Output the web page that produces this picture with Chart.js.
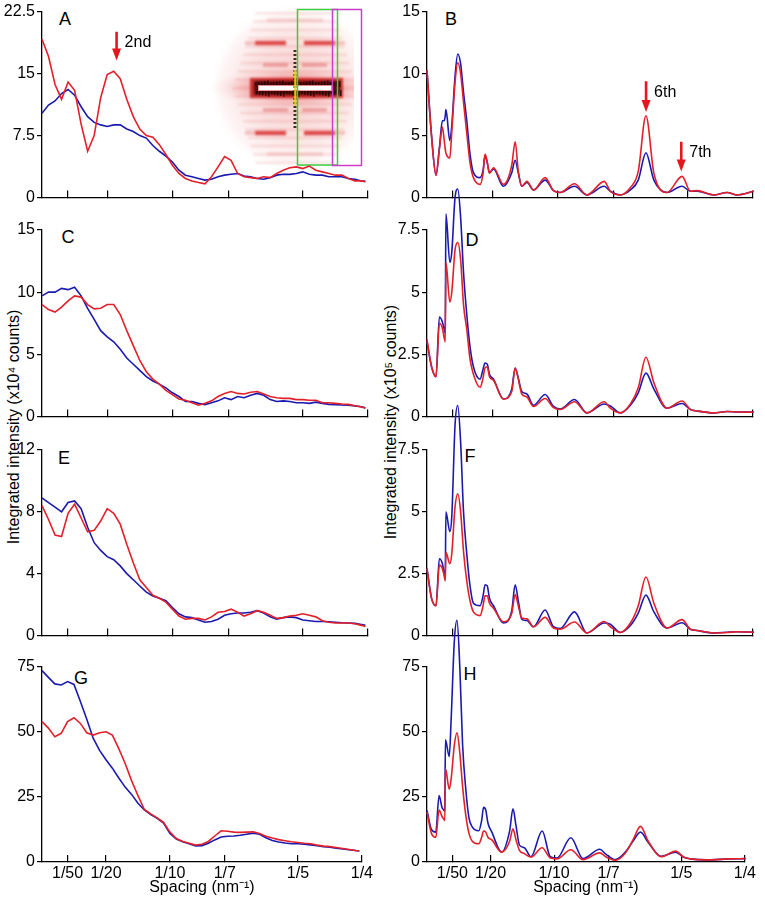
<!DOCTYPE html>
<html><head><meta charset="utf-8">
<script src="https://cdn.jsdelivr.net/npm/chart.js@4.4.1/dist/chart.umd.min.js"></script>
<style>
html,body{margin:0;padding:0;background:#fff;}
body{width:765px;height:902px;position:relative;overflow:hidden;font-family:"Liberation Sans",Arial,sans-serif;color:#000;}
canvas{position:absolute;}
.lbl{position:absolute;font-size:18px;line-height:18px;transform:translate(-50%,-50%);}
.ytitle{position:absolute;font-size:16px;line-height:18px;white-space:nowrap;transform:translate(-50%,-50%) rotate(-90deg);}
</style></head><body>
<div class="lbl" style="left:65px;top:19px">A</div>
<div class="lbl" style="left:451px;top:19px">B</div>
<div class="lbl" style="left:68px;top:237px">C</div>
<div class="lbl" style="left:472px;top:240px">D</div>
<div class="lbl" style="left:64px;top:458px">E</div>
<div class="lbl" style="left:470px;top:456px">F</div>
<div class="lbl" style="left:81px;top:678px">G</div>
<div class="lbl" style="left:470px;top:674px">H</div>
<div class="ytitle" style="left:14px;top:427px">Integrated intensity (x10⁴ counts)</div>
<div class="ytitle" style="left:391px;top:422px">Integrated intensity (x10⁵ counts)</div>
<script>
// ---------- data ----------
const xTickValues = [1/50, 1/20, 1/10, 1/7, 1/5, 1/4];
const xTickLabels = ['1/50', '1/20', '1/10', '1/7', '1/5', '1/4'];

const leftQ = [0,0.005,0.01,0.015,0.02,0.025,0.03,0.035,0.04,0.045,0.05,0.055,0.06,0.065,0.07,0.075,0.08,0.085,0.09,0.095,0.1,0.105,0.11,0.115,0.12,0.125,0.13,0.135,0.14,0.145,0.15,0.155,0.16,0.165,0.17,0.175,0.18,0.185,0.19,0.195,0.2,0.205,0.21,0.215,0.22,0.225,0.23,0.235,0.24,0.245,0.248];

const rightQ = [0,0.0035,0.0069,0.0095,0.0118,0.0132,0.014,0.0145,0.0175,0.019,0.0215,0.0236,0.0258,0.028,0.0305,0.033,0.0356,0.0407,0.043,0.0445,0.0462,0.0479,0.051,0.0586,0.065,0.0676,0.07,0.0727,0.0766,0.0817,0.0906,0.097,0.1022,0.1131,0.1227,0.1359,0.1406,0.1482,0.156,0.162,0.1679,0.174,0.1841,0.1956,0.202,0.2071,0.2199,0.2302,0.2379,0.2506];

const aRed  = [19.2,17.1,13.7,11.9,14.0,13.0,8.9,5.6,7.5,12.1,14.9,15.3,14.4,11.9,9.8,8.3,7.5,7.3,6.4,5.2,3.9,2.9,2.3,2.0,1.8,1.65,2.5,3.7,4.95,4.5,2.9,2.5,2.4,2.3,2.5,2.4,2.9,3.3,3.6,3.7,3.5,3.8,3.3,3.1,2.9,2.7,2.7,2.3,2.0,2.0,1.9];
const aBlue = [10.2,11.2,11.7,12.6,13.1,12.4,11.0,9.8,9.1,8.8,8.6,8.8,8.8,8.3,8.0,7.5,7.2,6.3,5.6,5.0,4.3,3.3,2.7,2.5,2.3,2.1,2.2,2.5,2.7,2.8,2.9,2.6,2.5,2.3,2.2,2.4,2.7,2.8,2.8,2.9,3.1,2.8,2.7,2.7,2.5,2.5,2.5,2.3,2.2,2.0,1.95];
const cRed  = [9.0,8.6,8.4,8.8,9.3,9.7,9.6,9.0,8.65,8.7,9.0,9.0,8.2,6.9,5.7,4.5,3.6,3.0,2.6,2.1,1.75,1.4,1.3,1.1,0.9,1.05,1.25,1.6,1.85,2.0,1.85,1.8,1.95,2.0,1.8,1.6,1.5,1.45,1.45,1.35,1.35,1.3,1.3,1.1,1.1,1.05,1.0,0.97,0.85,0.75,0.66];
const cBlue = [9.7,10.0,10.0,10.3,10.2,10.4,9.7,8.7,7.8,6.9,6.4,6.0,5.4,4.7,4.2,3.7,3.2,2.85,2.6,2.3,1.9,1.6,1.2,1.2,1.05,0.95,1.1,1.25,1.5,1.35,1.6,1.5,1.7,1.85,1.7,1.35,1.2,1.25,1.2,1.1,1.1,1.05,1.15,1.05,0.97,0.95,0.92,0.9,0.85,0.78,0.7];
const eRed  = [8.4,7.5,6.5,6.4,7.9,8.5,7.6,6.7,6.8,7.4,8.2,7.9,7.2,5.9,4.7,3.6,3.1,2.6,2.4,2.15,1.7,1.25,1.05,1.1,1.1,1.0,1.2,1.5,1.55,1.7,1.5,1.25,1.4,1.6,1.5,1.3,1.1,1.15,1.25,1.3,1.4,1.3,1.2,0.95,0.85,0.8,0.8,0.8,0.75,0.65,0.57];
const eBlue = [8.9,8.6,8.3,8.0,8.6,8.7,8.2,7.0,6.0,5.5,5.1,4.9,4.5,4.0,3.6,3.2,2.8,2.55,2.4,2.25,1.8,1.4,1.2,1.15,1.0,0.85,0.9,1.05,1.3,1.4,1.45,1.45,1.5,1.6,1.45,1.2,1.05,1.15,1.2,1.15,1.0,0.95,0.9,0.9,0.88,0.85,0.82,0.8,0.78,0.7,0.65];
const gRed  = [54.0,51.5,48.2,49.5,54.0,55.5,53.3,49.7,48.8,49.7,50.1,48.8,43.6,37.9,31.3,25.5,20.2,18.5,17.0,15.3,11.5,9.0,7.9,7.2,6.5,6.8,7.9,10.0,12.0,11.8,11.5,11.4,11.5,11.6,11.0,9.9,9.2,8.6,8.2,7.8,7.5,7.2,7.0,6.5,6.1,5.9,5.6,5.2,4.8,4.4,4.2];
const gBlue = [73.6,71.0,68.5,68.1,69.4,68.3,61.7,54.9,47.6,42.9,39.3,36.1,32.3,28.8,26.0,22.6,20.0,18.2,16.8,15.0,11.0,8.8,7.8,7.0,6.2,6.3,7.2,8.5,9.6,9.9,10.0,10.3,10.7,11.1,10.7,9.3,8.3,7.7,7.3,7.0,7.0,6.8,6.6,6.3,5.9,5.7,5.3,5.0,4.7,4.4,4.2];

const bRed  = [10.3,4.9,1.8,3.9,5.7,4.6,3.9,3.6,3.2,5.3,9.3,10.9,10.0,7.7,5.2,2.8,1.6,1.05,1.95,3.5,2.85,1.95,2.4,1.05,2.6,4.5,2.1,0.9,1.3,0.6,1.6,0.55,0.4,1.1,0.2,1.3,0.5,0.2,0.8,2.1,6.6,1.95,0.4,1.7,0.5,0.55,0.2,0.4,0.2,0.5];
const bBlue = [10.2,5.0,1.8,4.0,6.2,6.2,6.6,7.1,4.6,5.8,9.8,11.6,10.8,8.5,6.2,3.5,2.0,1.6,2.2,3.4,2.8,2.0,2.3,0.9,2.0,3.0,2.0,0.9,1.2,0.6,1.4,0.55,0.4,0.9,0.2,0.9,0.5,0.2,0.6,1.4,3.6,1.4,0.4,0.9,0.5,0.5,0.2,0.4,0.2,0.5];
const dRed  = [3.1,2.0,1.6,3.75,3.55,3.15,3.0,6.2,4.6,5.0,6.7,7.0,6.3,4.5,3.5,2.3,1.7,1.17,1.55,1.95,2.0,1.6,1.45,0.7,1.0,1.95,1.5,0.9,0.78,0.4,0.72,0.35,0.28,0.59,0.14,0.59,0.33,0.14,0.5,1.15,2.38,1.35,0.33,0.62,0.28,0.22,0.14,0.2,0.18,0.17];
const dBlue = [3.0,2.0,1.6,4.0,3.8,3.5,3.35,8.15,6.2,6.6,8.8,9.15,8.0,5.8,4.1,2.8,2.0,1.5,1.9,2.15,2.1,1.7,1.5,0.7,1.1,1.95,1.55,1.0,0.9,0.45,0.88,0.4,0.3,0.68,0.14,0.5,0.42,0.14,0.45,0.95,1.74,1.1,0.33,0.52,0.28,0.22,0.14,0.2,0.18,0.17];
const fRed  = [2.7,1.5,1.2,2.85,2.7,2.4,2.2,3.36,2.9,3.3,5.2,5.73,5.0,3.4,2.2,1.4,0.95,0.8,1.2,1.6,1.6,1.3,1.1,0.55,0.9,1.65,1.2,0.7,0.67,0.35,0.73,0.3,0.25,0.54,0.1,0.56,0.35,0.12,0.5,1.2,2.36,1.3,0.3,0.64,0.25,0.2,0.1,0.12,0.15,0.13];
const fBlue = [2.7,1.5,1.2,3.1,2.9,2.5,2.3,5.0,4.2,4.8,8.5,9.3,7.8,5.0,3.3,2.0,1.3,1.2,1.6,2.05,2.0,1.5,1.2,0.5,1.0,2.05,1.4,0.65,0.6,0.35,1.03,0.35,0.28,0.95,0.1,0.5,0.45,0.12,0.4,0.9,1.63,0.95,0.3,0.51,0.25,0.2,0.1,0.13,0.15,0.13];
const hRed  = [19.2,11,9.5,20.0,17.5,16.5,16,36,28,32,45,49.7,42,29,18,11,8.0,7.0,9.5,11.9,11.5,9.5,8.5,3.8,8,12.8,8.5,4.5,3.2,1.9,5.5,1.5,1.2,4.7,0.9,3.5,2.0,0.7,3.5,8.5,13.7,8.0,2.0,4.2,1.8,1.2,0.8,1.0,1.2,1.3];
const hBlue = [19.8,12.5,11.5,25.6,21,20,19.5,47,40.5,55,85,93,75,45,28,17,13.5,12,16,21,20,15,11.5,3.8,12,20.5,14,6.5,5.5,2.0,11.9,2.0,1.5,9.3,1.3,4.9,3.0,0.9,3.8,8.0,11.5,7.5,2.2,3.8,1.8,1.2,0.8,1.0,1.2,1.3];

const yTicksA = [0, 7.5, 15, 22.5];
const yTicksB = [0, 5, 10, 15];
const yTicksC = [0, 5, 10, 15];
const yTicksD = [0, 2.5, 5, 7.5];
const yTicksE = [0, 4, 8, 12];
const yTicksF = [0, 2.5, 5, 7.5];
const yTicksG = [0, 25, 50, 75];
const yTicksH = [0, 25, 50, 75];

const arrowsA = [{q: 0.0572, from: 20.1, to: 16.6, text: '2nd'}];
const arrowsB = [{q: 0.168, from: 9.4, to: 6.9, text: '6th'}, {q: 0.195, from: 4.5, to: 2.1, text: '7th'}];

// ---------- layout ----------
const ROW_TOP = [12, 230, 450, 667];
const ROW_BOT = [207, 426, 645, 862];
const RED = '#e3202a', BLUE = '#1a1ab0';
Chart.defaults.font.family = '"Liberation Sans", Arial, sans-serif';
Chart.defaults.color = '#000';

function arrowPlugin(list) {
  return {
    id: 'arrows',
    afterDatasetsDraw(chart) {
      const ctx = chart.ctx, xs = chart.scales.x, ys = chart.scales.y;
      ctx.save();
      list.forEach(a => {
        const x = xs.getPixelForValue(a.q);
        const y0 = ys.getPixelForValue(a.from), y1 = ys.getPixelForValue(a.to);
        ctx.strokeStyle = '#e5161e'; ctx.fillStyle = '#e5161e'; ctx.lineWidth = 2.6;
        ctx.beginPath(); ctx.moveTo(x, y0); ctx.lineTo(x, y1 - 10); ctx.stroke();
        ctx.beginPath(); ctx.moveTo(x - 4.5, y1 - 12); ctx.lineTo(x + 4.5, y1 - 12); ctx.lineTo(x, y1); ctx.closePath(); ctx.fill();
        ctx.fillStyle = '#000'; ctx.font = '16px "Liberation Sans", Arial, sans-serif';
        ctx.textBaseline = 'middle'; ctx.textAlign = 'left';
        ctx.fillText(a.text, x + 8, y0 + 11);
      });
      ctx.restore();
    }
  };
}

const insetPlugin = {
  id: 'inset',
  beforeDatasetsDraw(chart) {
    const ctx = chart.ctx;
    const cx = 295, cy = 88;
    ctx.save();
    ctx.beginPath(); ctx.rect(212, 6, 142, 163); ctx.clip();
    let g = ctx.createRadialGradient(cx, cy, 5, cx, cy, 86);
    g.addColorStop(0, 'rgba(238,150,150,0.5)');
    g.addColorStop(0.55, 'rgba(244,180,180,0.38)');
    g.addColorStop(0.85, 'rgba(250,215,215,0.25)');
    g.addColorStop(1, 'rgba(255,255,255,0)');
    ctx.fillStyle = g; ctx.fillRect(200, 0, 170, 180);
    // equatorial band
    ctx.save(); ctx.translate(cx, cy); ctx.scale(1, 0.24);
    g = ctx.createRadialGradient(0, 0, 0, 0, 0, 85);
    g.addColorStop(0, 'rgba(225,40,40,0.75)');
    g.addColorStop(0.5, 'rgba(235,100,100,0.45)');
    g.addColorStop(1, 'rgba(250,200,200,0)');
    ctx.fillStyle = g; ctx.beginPath(); ctx.arc(0, 0, 85, 0, 2 * Math.PI); ctx.fill();
    ctx.restore();
    ctx.filter = 'blur(1.2px)';
    // fine layer lines
    ctx.strokeStyle = 'rgba(215,70,70,0.14)'; ctx.lineWidth = 2.5;
    for (let k = -9; k <= 9; k++) {
      const y = cy + k * 8.3;
      const half = 62 - Math.abs(k) * 2.5;
      ctx.beginPath(); ctx.moveTo(cx - half, y); ctx.lineTo(cx + half, y); ctx.stroke();
    }
    const band = (dy, x0, x1, col, h) => {
      ctx.fillStyle = col;
      ctx.fillRect(cx + x0, cy + dy - h / 2, x1 - x0, h);
    };
    [-45, 45].forEach(dy => {
      band(dy, -40, -9, 'rgba(212,25,25,0.75)', 4.5);
      band(dy, 9, 40, 'rgba(212,25,25,0.75)', 4.5);
      band(dy, -50, -40, 'rgba(225,90,90,0.3)', 4);
      band(dy, 40, 50, 'rgba(225,90,90,0.3)', 4);
    });
    [-23, 22].forEach(dy => { band(dy, -32, -7, 'rgba(220,70,70,0.38)', 4); band(dy, 7, 32, 'rgba(220,70,70,0.38)', 4); });
    [-68, 66].forEach(dy => band(dy, -28, 28, 'rgba(220,90,90,0.22)', 3));
    // central streak
    ctx.fillStyle = 'rgba(190,10,10,0.75)'; ctx.fillRect(250, 78, 93, 20);
    ctx.fillStyle = 'rgba(40,0,0,0.7)'; ctx.fillRect(254, 81, 86, 14);
    ctx.filter = 'none';
    ctx.fillStyle = 'rgba(30,0,0,0.75)';
    for (let x = 255; x < 340; x += 3) {
      const h = 3 + ((x * 7) % 5);
      ctx.fillRect(x, 84 - h / 2, 1.5, h);
      ctx.fillRect(x + 1, 92 - h / 3, 1.5, h);
    }
    ctx.fillStyle = '#fff'; ctx.fillRect(258, 85.5, 74, 5.5);
    ctx.strokeStyle = 'rgba(235,140,140,0.9)'; ctx.lineWidth = 1; ctx.strokeRect(258.5, 85.5, 73, 5);
    // meridian
    ctx.fillStyle = 'rgba(30,20,0,0.85)';
    for (let y = 50; y < 128; y += 4) ctx.fillRect(293.5, y, 3, 2);
    ctx.fillStyle = 'rgba(235,215,20,0.9)'; ctx.fillRect(294.2, 70, 2.2, 36);
    ctx.restore();
    ctx.save();
    ctx.lineWidth = 1.5;
    ctx.strokeStyle = '#3dcc3d'; ctx.strokeRect(297.5, 9.5, 40, 155.5);
    ctx.strokeStyle = '#cc3ccc'; ctx.strokeRect(332.5, 9.5, 29, 156);
    ctx.restore();
  }
};

function makePanel(side, row, xs, red, blue, yTicks, smooth, plugins) {
  const left = side === 0 ? 0 : 382;
  const width = side === 0 ? 382 : 383;
  const yW = side === 0 ? 42 : 45;
  const padR = side === 0 ? 14 : 12;
  const padTop = row === 0 ? 12 : 50;
  const xH = row === 3 ? 35 : 2;
  const top = ROW_TOP[row] - padTop;
  const height = padTop + (ROW_BOT[row] - ROW_TOP[row]) + xH;
  const cv = document.createElement('canvas');
  cv.width = width; cv.height = height;
  cv.style.left = left + 'px'; cv.style.top = top + 'px';
  cv.style.width = width + 'px'; cv.style.height = height + 'px';
  document.body.appendChild(cv);
  const mk = (vals, col) => ({
    data: xs.map((x, i) => ({x: x, y: vals[i]})),
    borderColor: col, borderWidth: 1.6, pointRadius: 0, fill: false, clip: false,
    tension: 0, cubicInterpolationMode: smooth ? 'monotone' : 'default'
  });
  new Chart(cv, {
    type: 'line',
    data: {datasets: [mk(red, RED), mk(blue, BLUE)]},
    options: {
      responsive: false, animation: false, events: [],
      layout: {autoPadding: false, padding: {left: 0, right: padR, top: padTop, bottom: 0}},
      plugins: {legend: {display: false}, tooltip: {enabled: false}},
      scales: {
        x: {
          type: 'linear', min: 0, max: 0.25,
          afterBuildTicks: s => { s.ticks = xTickValues.map(v => ({value: v})); },
          afterFit: s => { s.height = xH; },
          ticks: {display: row === 3, autoSkip: false, maxRotation: 0, padding: 9,
                  font: {size: 16}, color: '#000',
                  callback: (v, i) => xTickLabels[i]},
          grid: {drawOnChartArea: false, tickLength: -7, color: '#000', lineWidth: 1.2},
          border: {display: true, color: '#000', width: 1.3},
          title: {display: row === 3, text: 'Spacing (nm⁻¹)', font: {size: 16}, color: '#000', padding: 0}
        },
        y: {
          min: 0, max: yTicks[yTicks.length - 1],
          afterBuildTicks: s => { s.ticks = yTicks.map(v => ({value: v})); },
          afterFit: s => { s.width = yW; },
          ticks: {font: {size: 16}, color: '#000', padding: 2, callback: v => String(v)},
          grid: {drawOnChartArea: false, tickLength: 5, color: '#000', lineWidth: 1.2},
          border: {display: true, color: '#000', width: 1.3}
        }
      }
    },
    plugins: plugins || []
  });
}

makePanel(0, 0, leftQ, aRed, aBlue, yTicksA, false, [insetPlugin, arrowPlugin(arrowsA)]);
makePanel(1, 0, rightQ, bRed, bBlue, yTicksB, true, [arrowPlugin(arrowsB)]);
makePanel(0, 1, leftQ, cRed, cBlue, yTicksC, false);
makePanel(1, 1, rightQ, dRed, dBlue, yTicksD, true);
makePanel(0, 2, leftQ, eRed, eBlue, yTicksE, false);
makePanel(1, 2, rightQ, fRed, fBlue, yTicksF, true);
makePanel(0, 3, leftQ, gRed, gBlue, yTicksG, false);
makePanel(1, 3, rightQ, hRed, hBlue, yTicksH, true);
</script>
</body></html>
